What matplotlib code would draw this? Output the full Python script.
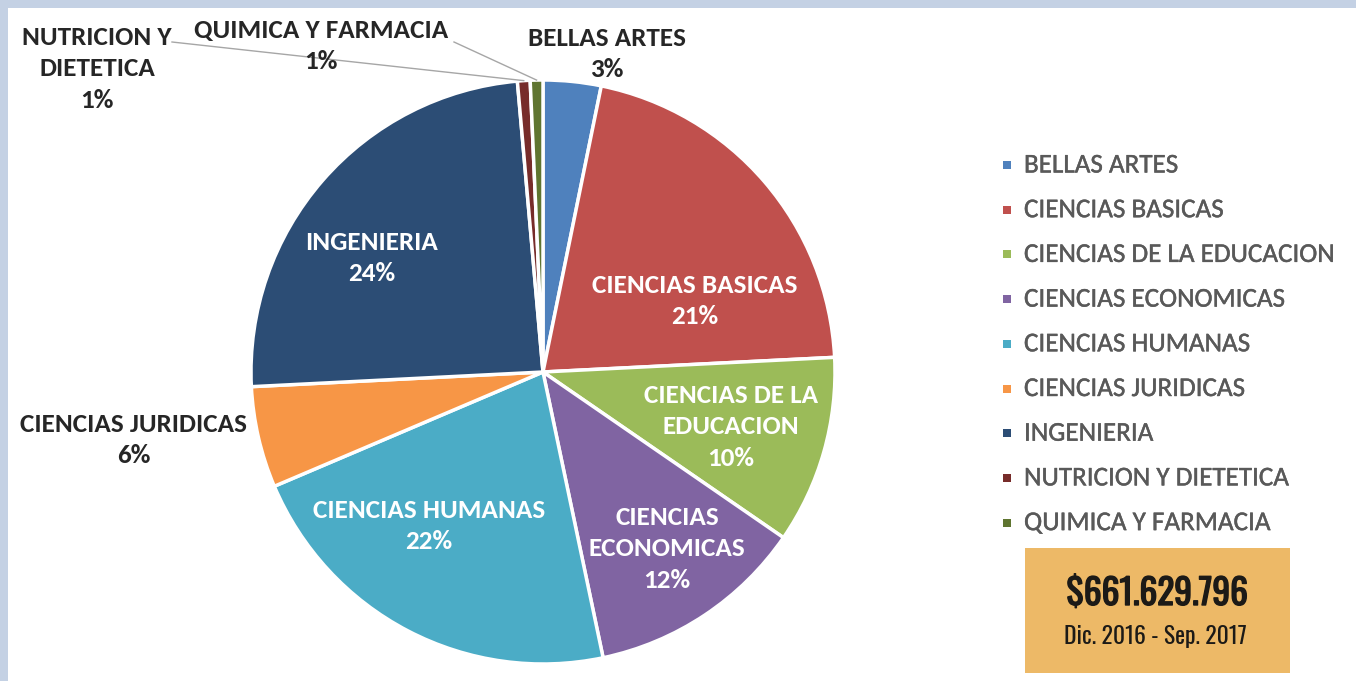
import numpy as np
import matplotlib
matplotlib.use('agg')
import matplotlib.pyplot as plt
import matplotlib.patheffects as pe
from matplotlib.patches import Rectangle

# share of budget per faculty (%), clockwise from 12 o'clock
facultades = ["BELLAS ARTES", "CIENCIAS BASICAS", "CIENCIAS DE LA EDUCACION",
              "CIENCIAS ECONOMICAS", "CIENCIAS HUMANAS", "CIENCIAS JURIDICAS",
              "INGENIERIA", "NUTRICION Y DIETETICA", "QUIMICA Y FARMACIA"]
porcentaje = [3.2, 21.0, 10.4, 12.1, 21.9, 5.6, 24.4, 0.7, 0.7]
total = "$661.629.796"
periodo = "Dic. 2016 - Sep. 2017"

colores = ["#4F81BD", "#C0504D", "#9BBB59", "#8064A2", "#4BACC6",
           "#F79646", "#2C4D75", "#772C2A", "#5F7530"]

# label text as it is broken over lines
nombres_lbl = ["BELLAS ARTES", "CIENCIAS BASICAS", "CIENCIAS DE LA\nEDUCACION",
               "CIENCIAS\nECONOMICAS", "CIENCIAS HUMANAS", "CIENCIAS JURIDICAS",
               "INGENIERIA", "NUTRICION Y\nDIETETICA", "QUIMICA Y FARMACIA"]
# label centres in pixels (from top-left) and whether they sit inside the pie
pos_lbl = [(607, 54), (695, 301), (731, 427), (667, 549), (429, 526),
           (134, 440), (372, 258), (97, 69), (321, 46)]
dentro = [False, True, True, True, True, False, True, False, False]

W, H = 1356, 681
fig = plt.figure(figsize=(W / 100, H / 100), dpi=100)
fig.patch.set_facecolor("#C4D1E4")
ax = fig.add_axes([0, 0, 1, 1])

# white panel inside the blue frame
ax.add_patch(Rectangle((8, 0), W - 8, H - 8, facecolor="white", edgecolor="none", zorder=0))

cx, cy, r = 543, H - 372, 292
wedges, _ = ax.pie(porcentaje, colors=colores, startangle=90, counterclock=False,
                   center=(cx, cy), radius=r, frame=True,
                   wedgeprops=dict(edgecolor="white", linewidth=2.5))
ax.set_xlim(0, W)
ax.set_ylim(0, H)
ax.set_aspect('equal')
ax.axis('off')

for i, w in enumerate(wedges):
    txt = f"{nombres_lbl[i]}\n{round(porcentaje[i]):.0f}%"
    x, y = pos_lbl[i]
    ax.text(x, H - y, txt, ha='center', va='center', family='Carlito', weight='bold',
            fontsize=19.5, color='white' if dentro[i] else '#262626', linespacing=1.45, zorder=5)

# leader lines for the two thin slices at the top
for i, start in [(7, (172, 42)), (8, (454, 42))]:
    w = wedges[i]
    ang = np.deg2rad((w.theta1 + w.theta2) / 2)
    ex, ey = cx + r * np.cos(ang), cy + r * np.sin(ang)
    ax.plot([start[0], ex], [H - start[1], ey], color="#A6A6A6", lw=1, zorder=4)

# legend
ley_y0, ley_dy = 165, 44.7
for i, nombre in enumerate(facultades):
    y = H - (ley_y0 + i * ley_dy)
    ax.add_patch(Rectangle((1003, y - 4), 8, 8, facecolor=colores[i], edgecolor='none'))
    ax.text(1024, y, nombre, ha='left', va='center', family='Carlito', fontsize=19.5,
            color='#595959', path_effects=[pe.withStroke(linewidth=0.3, foreground='#595959')])

# total box
ax.add_patch(Rectangle((1025, H - 673), 265, 125, facecolor="#EDB967", edgecolor='none', zorder=3))
ax.text(1157, H - 594, total, ha='center', va='center', family='Oswald',
        fontsize=25.5, color='#1C1A17', zorder=4,
        path_effects=[pe.withStroke(linewidth=1.0, foreground='#1C1A17')])
ax.text(1155, H - 637, periodo, ha='center', va='center', family='Oswald',
        fontsize=17, color='#1C1A17', zorder=4)

fig.savefig('out.png', dpi=100)
